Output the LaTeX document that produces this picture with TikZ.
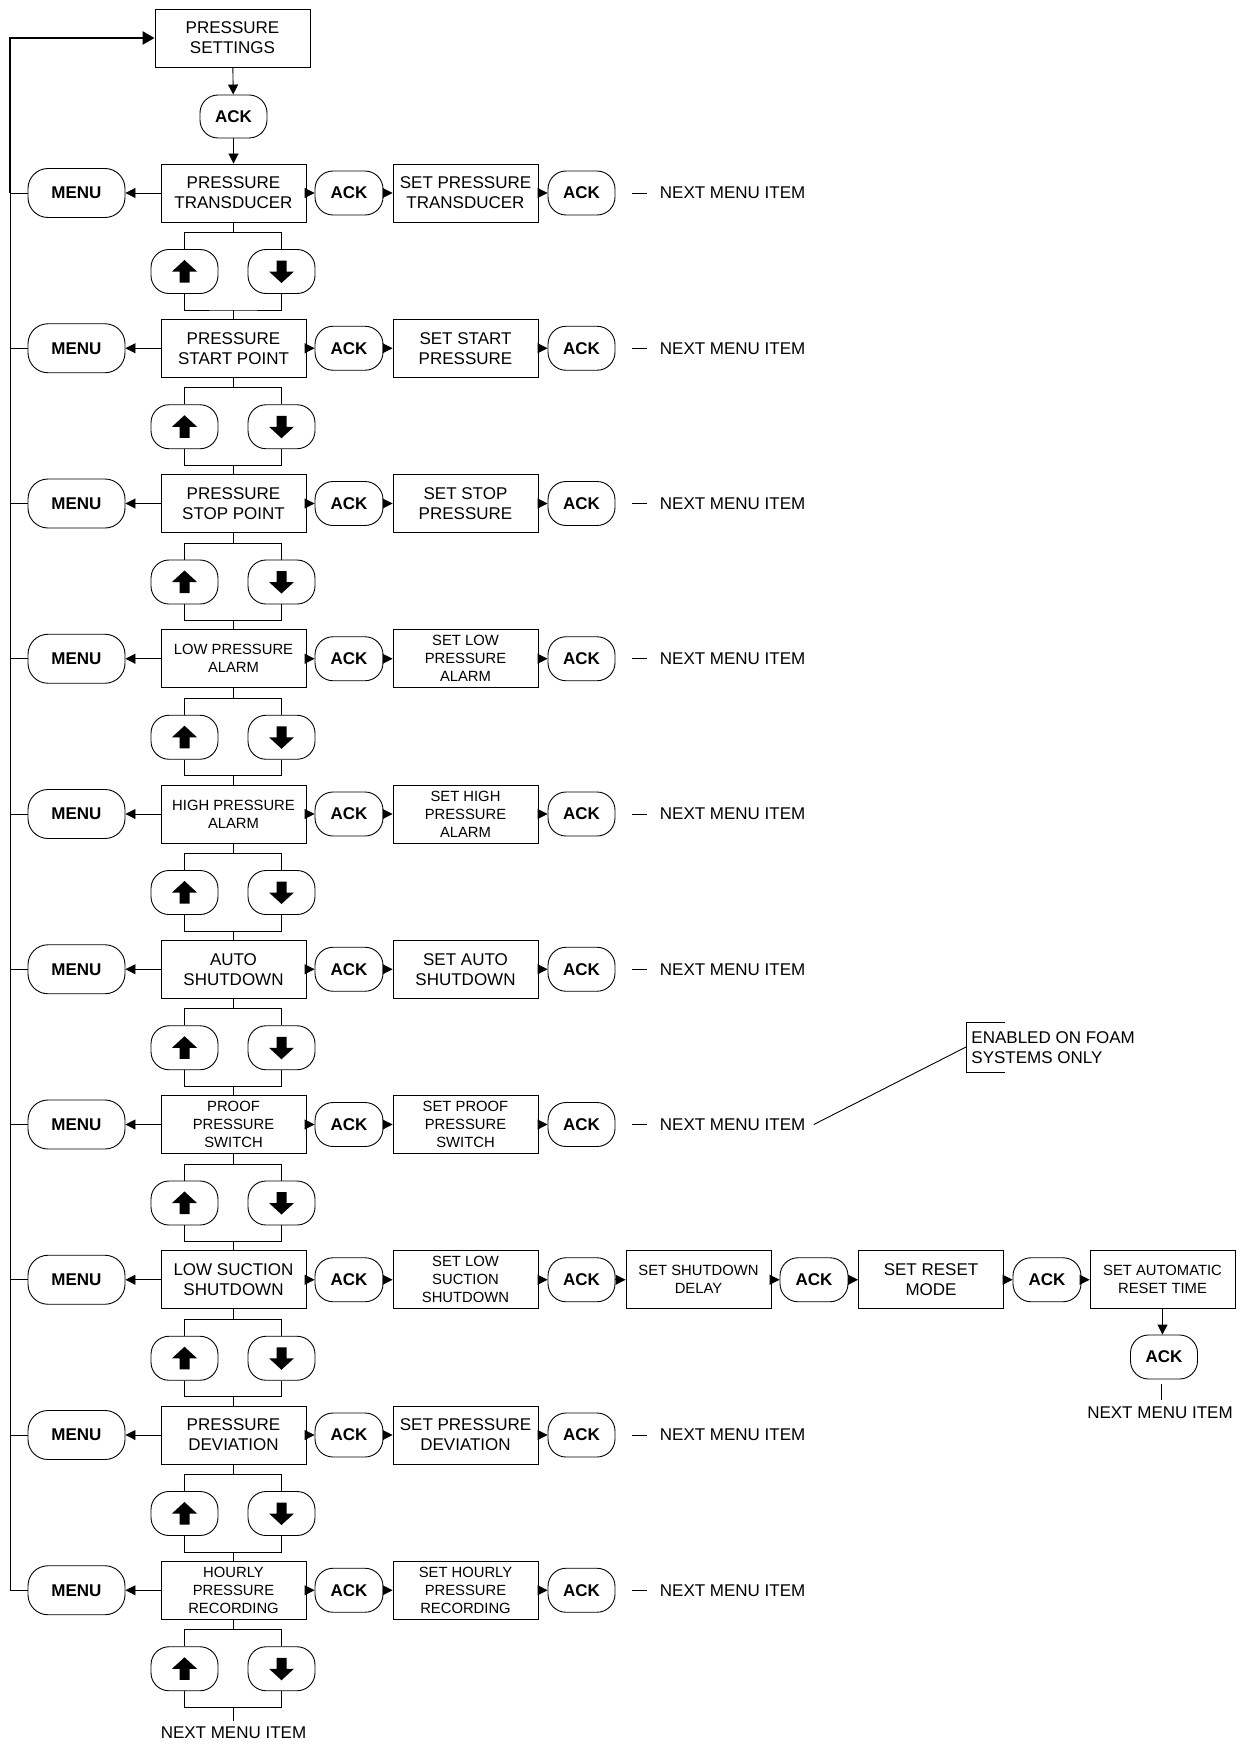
\documentclass[tikz,border=0pt]{standalone}
\usepackage{fontspec}
\setmainfont{Liberation Sans}
\usetikzlibrary{arrows.meta,calc}
\newcommand\FMain{\fontsize{17}{20}\selectfont}
\newcommand\FSmall{\fontsize{14.8}{18}\selectfont}
\newcommand\FBold{\fontsize{17}{20}\selectfont\bfseries}
\begin{document}
\begin{tikzpicture}[x=1pt,y=-1pt,line width=0.9pt,
  >={Triangle[length=10pt,width=10pt]},
  boxm/.style={draw,minimum width=145pt,minimum height=58pt,inner sep=0pt,align=center,font=\FMain},
  ackb/.style={draw,rounded corners=18pt,minimum width=68pt,minimum height=44pt,inner sep=0pt,font=\FBold},
  menub/.style={ackb,rounded corners=20pt,minimum width=97pt,minimum height=49pt},
  btn/.style={draw,rounded corners=18pt,minimum width=67pt,minimum height=44pt,inner sep=0pt},
  lbl/.style={inner sep=0pt,font=\FMain,align=left},
  thickloop/.style={line width=2.6pt,-{Triangle[length=12pt,width=13pt]}}
]
\useasboundingbox (0,0) rectangle (1236,1744);

% top
\node[boxm,minimum width=155pt] (ps) at (232.5,38) {PRESSURE\\SETTINGS};
\node[ackb,minimum width=67pt,minimum height=43pt] (ack) at (233.5,116.5) {ACK};
\draw[->] (ps) -- (ack);

\foreach \i/\ta/\fa/\tb/\fb in {
 0/{PRESSURE\\TRANSDUCER}/\FMain/{SET PRESSURE\\TRANSDUCER}/\FMain,
 1/{PRESSURE\\START POINT}/\FMain/{SET START\\PRESSURE}/\FMain,
 2/{PRESSURE\\STOP POINT}/\FMain/{SET STOP\\PRESSURE}/\FMain,
 3/{LOW PRESSURE\\ALARM}/\FSmall/{SET LOW\\PRESSURE\\ALARM}/\FSmall,
 4/{HIGH PRESSURE\\ALARM}/\FSmall/{SET HIGH\\PRESSURE\\ALARM}/\FSmall,
 5/{AUTO\\SHUTDOWN}/\FMain/{SET AUTO\\SHUTDOWN}/\FMain,
 6/{PROOF\\PRESSURE\\SWITCH}/\FSmall/{SET PROOF\\PRESSURE\\SWITCH}/\FSmall,
 7/{LOW SUCTION\\SHUTDOWN}/\FMain/{SET LOW\\SUCTION\\SHUTDOWN}/\FSmall,
 8/{PRESSURE\\DEVIATION}/\FMain/{SET PRESSURE\\DEVIATION}/\FMain,
 9/{HOURLY\\PRESSURE\\RECORDING}/\FSmall/{SET HOURLY\\PRESSURE\\RECORDING}/\FSmall}
{
 \pgfmathsetmacro\y{193+155.25*\i}
 \pgfmathsetmacro\yb{\y+78.5}
 \node[boxm,font=\fa] (b\i) at (233.5,\y) {\ta};
 \node[menub] (m\i) at (76.5,\y) {MENU};
 \node[ackb] (a\i) at (349,\y) {ACK};
 \node[boxm,font=\fb] (s\i) at (465.5,\y) {\tb};
 \node[ackb,minimum width=67pt] (c\i) at (581.5,\y) {ACK};
 \coordinate (L\i) at (10,\y);
 \draw[->] (b\i) -- (m\i);
 \draw[->] (b\i) -- (a\i);
 \draw[->] (a\i) -- (s\i);
 \draw[->] (s\i) -- (c\i);
 \draw (L\i) -- (m\i);
 % up / down buttons
 \node[btn] (u\i) at (184.5,\yb) {};
 \node[btn] (d\i) at (281.5,\yb) {};
 \fill[shift={(u\i.center)}] (0,-11.5) -- (12.5,0) -- (5,0) -- (5,11) -- (-5,11) -- (-5,0) -- (-12.5,0) -- cycle;
 \fill[shift={(d\i.center)}] (0,11.5) -- (12.5,0) -- (5,0) -- (5,-11) -- (-5,-11) -- (-5,0) -- (-12.5,0) -- cycle;
 \draw (b\i.south) -- ++(0,10) coordinate (t\i);
 \draw (u\i.north) |- (t\i) -| (d\i.north);
 \coordinate (j\i) at (233.5,\y+117);
 \draw (u\i.south) |- (j\i) -| (d\i.south);
}
\draw[->] (ack) -- (b0);
\foreach \i in {0,...,8}{
 \pgfmathtruncatemacro\k{\i+1}
 \draw (j\i) -- (b\k);
}

% loop line
\coordinate (Ltop) at (10,38);
\draw[thickloop] (L0) -- (Ltop) -- (ps.west);
\draw (L0) -- (L9);

% next menu item labels
\foreach \i in {0,1,2,3,4,5,6,8,9}{
 \node[lbl,anchor=west] (n\i) at ($(c\i.east)+(44,0)$) {NEXT MENU ITEM};
 \draw ($(n\i.west)+(-27,0)$) -- ($(n\i.west)+(-12,0)$);
}

% row 7 extension
\node[boxm,font=\FSmall] (e1) at (698.5,1279.75) {SET SHUTDOWN\\DELAY};
\node[ackb] (e2) at (814,1279.75) {ACK};
\node[boxm] (e3) at (931,1279.75) {SET RESET\\MODE};
\node[ackb] (e4) at (1047,1279.75) {ACK};
\node[boxm,font=\FSmall] (e5) at (1162.5,1279.75) {SET AUTOMATIC\\RESET TIME};
\node[ackb,minimum width=67pt] (e6) at (1164,1357) {ACK};
\node[lbl] (e7) at (1160,1413) {NEXT MENU ITEM};
\draw[->] (c7) -- (e1);
\draw[->] (e1) -- (e2);
\draw[->] (e2) -- (e3);
\draw[->] (e3) -- (e4);
\draw[->] (e4) -- (e5);
\draw[->] (e5.south) -- (e5.south |- e6.north);
\draw ($(e7.north)+(1,-7)$) -- ($(e6.south)+(-3,5)$);

% bottom next menu item
\node[lbl] (nb) at (233.5,1733) {NEXT MENU ITEM};
\draw (j9) -- ($(nb.north)+(0,-6)$);

% callout
\node[lbl,anchor=north west] (note) at (971,1031) {ENABLED ON FOAM\\SYSTEMS ONLY};
\draw ($(note.north west)+(34,-9)$) -- ($(note.north west)+(-5,-9)$) -- ($(note.north west)+(-5,41)$) -- ($(note.north west)+(34,41)$);
\draw ($(n6.east)+(8,0)$) -- ($(note.north west)+(-5,16)$);
\end{tikzpicture}
\end{document}
